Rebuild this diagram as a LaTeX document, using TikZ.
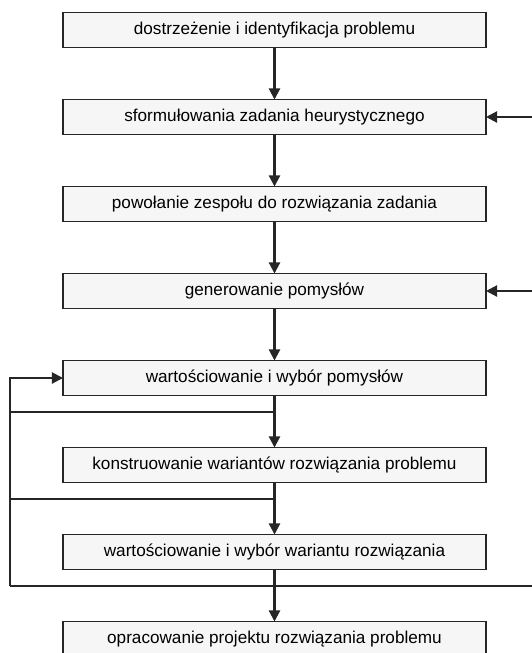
\documentclass[tikz,border=0pt]{standalone}
\usepackage{fontspec}
\setmainfont{Liberation Sans}
\usetikzlibrary{positioning}
\usetikzlibrary{arrows.meta}

\begin{document}
\begin{tikzpicture}[x=0.25mm,y=-0.25mm,
  stage/.style={draw=black!85, line width=1.1pt, fill=gray!7,
    minimum width=105.75mm, minimum height=8.75mm, inner sep=0pt,
    outer sep=0pt, font=\fontsize{12.2}{14}\selectfont},
  flow/.style={draw=black!85, line width=1.5pt, -{Triangle[length=2.8mm,width=2.8mm]}},
  wire/.style={draw=black!85, line width=1.2pt},
  node distance=13mm]

\clip (0,0) rectangle (532,653);

% stages
\node[stage] (s1) at (274.5,30) {dostrzeżenie i identyfikacja problemu};
\node[stage, below=of s1] (s2) {sformułowania zadania heurystycznego};
\node[stage, below=of s2] (s3) {powołanie zespołu do rozwiązania zadania};
\node[stage, below=of s3] (s4) {generowanie pomysłów};
\node[stage, below=of s4] (s5) {wartościowanie i wybór pomysłów};
\node[stage, below=of s5] (s6) {konstruowanie wariantów rozwiązania problemu};
\node[stage, below=of s6] (s7) {wartościowanie i wybór wariantu rozwiązania};
\node[stage, below=of s7] (s8) {opracowanie projektu rozwiązania problemu};

% main flow
\draw[flow] (s1) -- (s2);
\draw[flow] (s2) -- (s3);
\draw[flow] (s3) -- (s4);
\draw[flow] (s4) -- (s5);
\draw[flow] (s5) -- (s6);
\draw[flow] (s6) -- (s7);
\draw[flow] (s7) -- (s8);

% inputs from the right
\coordinate (in2) at (540,0 |- s2.east);
\coordinate (in4) at (540,0 |- s4.east);
\draw[flow] (in2) -- (s2.east);
\draw[flow] (in4) -- (s4.east);

% feedback on the left
\coordinate[below=4.2mm of s5.south] (j1);
\coordinate[below=4.2mm of s6.south] (j2);
\coordinate[below=4.2mm of s7.south] (j3);
\coordinate (l3) at (10,0 |- j3);
\coordinate (e3) at (540,0 |- j3);

\draw[wire] (e3) -- (l3);
\draw[flow] (l3) |- (s5.west);
\draw[wire] (j1) -- (j1 -| l3);
\draw[wire] (j2) -- (j2 -| l3);

\end{tikzpicture}
\end{document}
